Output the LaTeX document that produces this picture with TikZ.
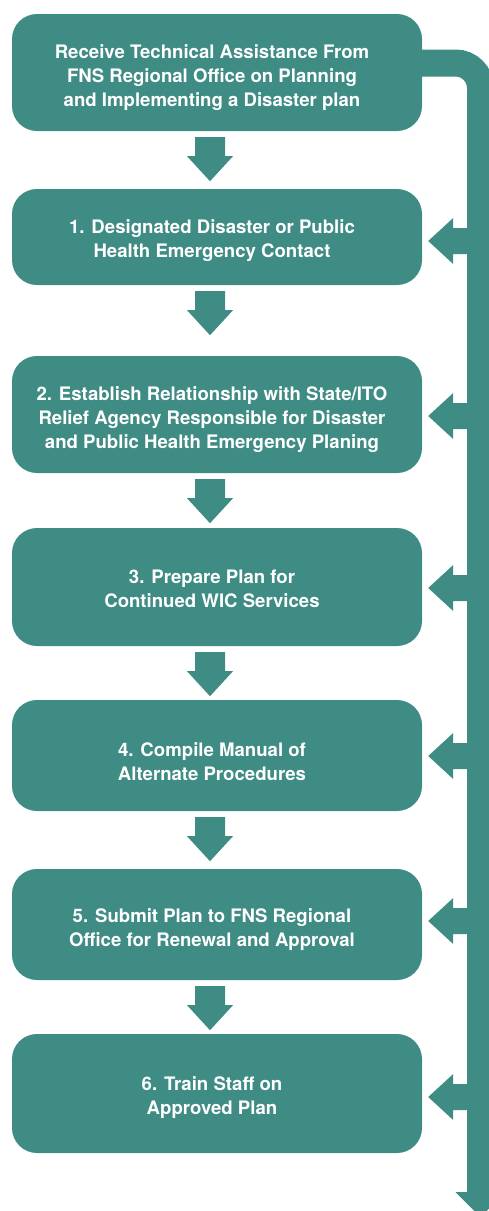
\documentclass[tikz,border=0pt]{standalone}
\usepackage{fontspec}
\setmainfont{TeX Gyre Heros}
\usetikzlibrary{calc}
\definecolor{stepteal}{RGB}{62,140,132}

\tikzset{
  % block arrow between consecutive steps, drawn from its top centre
  dnarrow/.pic={\fill[stepteal] (-15,0) -- (15,0) -- (15,19) -- (23,19) -- (0,44)
      -- (-23,19) -- (-15,19) -- cycle;},
  % block arrow from the feedback bar into a step, drawn from its tip
  lfarrow/.pic={\fill[stepteal] (0,0) -- (25,-23) -- (25,-13) -- (45,-13) -- (45,13)
      -- (25,13) -- (25,23) -- cycle;},
}

\begin{document}
\begin{tikzpicture}[x=1pt,y=-1pt,
  box/.style={fill=stepteal, rounded corners=25pt, minimum width=410pt,
              inner sep=0pt, draw=none},
  caption/.style={text=white, font=\bfseries\fontsize{18.6}{24}\selectfont,
                  align=center, inner sep=0pt},
  bar/.style={draw=stepteal, line width=27pt, rounded corners=25pt},
]
\useasboundingbox (0,0) rectangle (489,1211);
\clip (0,0) rectangle (489,1211);

% steps
\node[box, minimum height=117pt] (b0) at (217,72.5)  {};
\node[box, minimum height=96pt]  (b1) at (217,237)   {};
\node[box, minimum height=117pt] (b2) at (217,414.5) {};
\node[box, minimum height=118pt] (b3) at (217,587)   {};
\node[box, minimum height=111pt] (b4) at (217,755.5) {};
\node[box, minimum height=111pt] (b5) at (217,924.5) {};
\node[box, minimum height=119pt] (b6) at (217,1093.5) {};

\node[caption] (t0) at (212,77.5) {Receive Technical Assistance From\\FNS Regional Office on Planning\\and Implementing a Disaster plan};
\node[caption] (t1) at (212,241) {1. Designated Disaster or Public\\Health Emergency Contact};
\node[caption] (t2) at (212,419.5) {2. Establish Relationship with State/ITO\\Relief Agency Responsible for Disaster\\and Public Health Emergency Planing};
\node[caption] (t3) at (212,589) {3. Prepare Plan for\\Continued WIC Services};
\node[caption] (t4) at (212,761.5) {4. Compile Manual of\\Alternate Procedures};
\node[caption] (t5) at (212,929.5) {5. Submit Plan to FNS Regional\\Office for Renewal and Approval};
\node[caption] (t6) at (212,1097.5) {6. Train Staff on\\Approved Plan};

% arrows down the chain of steps
\foreach \a/\b in {b0/b1,b1/b2,b2/b3,b3/b4,b4/b5,b5/b6}
  \pic at ($(\a.south)+(-7,6)$) {dnarrow};

% feedback bar on the right
\coordinate (turn)   at (480.5,63);
\coordinate (barend) at (480.5,1192);
\draw[bar] ($(b0.east)+(-5,-9.5)$) -- (turn) -- (barend);
\fill[stepteal] ($(barend)+(-25,0)$) -- ($(barend)+(25,0)$) -- ($(barend)+(0,25)$) -- cycle;

% arrows from the bar into each step
\pic at ($(b1.east)+(6,4)$)    {lfarrow};
\pic at ($(b2.east)+(6,1.5)$)  {lfarrow};
\pic at ($(b3.east)+(6,1)$)    {lfarrow};
\pic at ($(b4.east)+(6,0.5)$)  {lfarrow};
\pic at ($(b5.east)+(6,-3.5)$) {lfarrow};
\pic at ($(b6.east)+(6,3.5)$)  {lfarrow};
\end{tikzpicture}
\end{document}
